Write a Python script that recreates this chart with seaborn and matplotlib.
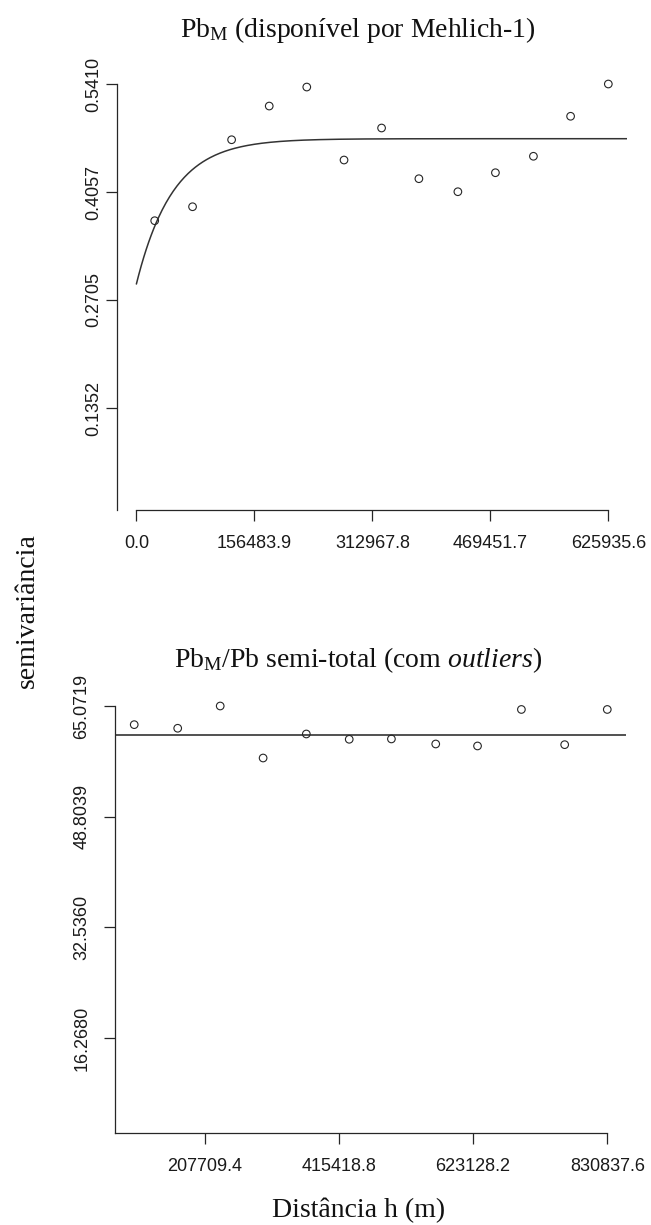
import numpy as np
import pandas as pd
import matplotlib
matplotlib.use("Agg")
import matplotlib.pyplot as plt
import seaborn as sns

# ---------------- data ----------------
# Panel 1: Pb_M (disponivel por Mehlich-1)
lag1 = [24300, 74500, 126300, 176200, 226000, 275400, 325200, 374700,
        426400, 476200, 526600, 575900, 625935.6]
gamma1 = [0.3698, 0.3873, 0.4712, 0.5134, 0.5372, 0.4458, 0.4859, 0.4224,
          0.4061, 0.4299, 0.4505, 0.5006, 0.5410]
# fitted exponential model
nugget1 = 0.2905
psill1 = 0.1820
range1 = 48000.0
xticks1 = [0.0, 156483.9, 312967.8, 469451.7, 625935.6]
xticklabels1 = ["0.0", "156483.9", "312967.8", "469451.7", "625935.6"]
yticks1 = [0.1352, 0.2705, 0.4057, 0.5410]
yticklabels1 = ["0.1352", "0.2705", "0.4057", "0.5410"]

# Panel 2: Pb_M / Pb semi-total (com outliers)
lag2 = [98600, 165900, 231700, 298100, 365000, 431400, 496700, 565300,
        630000, 697900, 764900, 830837.6]
gamma2 = [62.33, 61.80, 65.07, 57.43, 60.96, 60.18, 60.23, 59.49,
          59.20, 64.56, 59.39, 64.56]
nugget2 = 60.74  # pure nugget model
xticks2 = [207709.4, 415418.8, 623128.2, 830837.6]
xticklabels2 = ["207709.4", "415418.8", "623128.2", "830837.6"]
yticks2 = [16.2680, 32.5360, 48.8039, 65.0719]
yticklabels2 = ["16.2680", "32.5360", "48.8039", "65.0719"]

title1 = r"Pb$_{\mathrm{M}}$ (disponível por Mehlich-1)"
title2 = r"Pb$_{\mathrm{M}}$/Pb semi-total (com $\mathit{outliers}$)"
xlabel = "Distância h (m)"
ylabel = "semivariância"

# ---------------- style ----------------
sns.set_theme(style="white")
plt.rcParams["font.family"] = ["Liberation Sans", "DejaVu Sans"]
plt.rcParams["mathtext.fontset"] = "custom"
plt.rcParams["mathtext.rm"] = "Liberation Serif"
plt.rcParams["mathtext.it"] = "Liberation Serif:italic"
plt.rcParams["mathtext.bf"] = "Liberation Serif:bold"

INK = "#262626"
serif = ["Liberation Serif", "DejaVu Serif"]

W, H = 651, 1225
fig = plt.figure(figsize=(W / 100, H / 100), dpi=100)
fig.patch.set_facecolor("white")

ax1 = fig.add_axes([117.5 / W, 1 - 510 / H, (627.2 - 117.5) / W, (510 - 67) / H])
ax2 = fig.add_axes([115.3 / W, 1 - 1132.7 / H, (626.2 - 115.3) / W, (1132.7 - 690) / H])

# limits (R style: 4% extension on x)
x1max = 625935.6
x1lim = (-0.04 * x1max, 1.04 * x1max)
y1lim = (0.0075, 0.5623)
x2min, x2max = lag2[0], lag2[-1]
x2lim = (x2min - 0.04 * (x2max - x2min), x2max + 0.04 * (x2max - x2min))
y2lim = (2.39, 67.42)

# ---------------- panel 1 ----------------
df1 = pd.DataFrame({"h": lag1, "g": gamma1})
hgrid1 = np.linspace(0, x1lim[1], 400)
model1 = nugget1 + psill1 * (1 - np.exp(-hgrid1 / range1))
sns.lineplot(x=hgrid1, y=model1, ax=ax1, color="#333333", linewidth=1.1)
sns.scatterplot(data=df1, x="h", y="g", ax=ax1, marker="o", s=30,
                facecolor="none", edgecolor=INK, linewidth=0.8, zorder=3,
                clip_on=False)
ax1.set_xlim(*x1lim)
ax1.set_ylim(*y1lim)

# ---------------- panel 2 ----------------
df2 = pd.DataFrame({"h": lag2, "g": gamma2})
hgrid2 = np.linspace(0, x2lim[1], 50)
model2 = np.full_like(hgrid2, nugget2)
sns.lineplot(x=hgrid2, y=model2, ax=ax2, color="#222222", linewidth=1.1)
sns.scatterplot(data=df2, x="h", y="g", ax=ax2, marker="o", s=30,
                facecolor="none", edgecolor=INK, linewidth=0.8, zorder=3,
                clip_on=False)
ax2.set_xlim(*x2lim)
ax2.set_ylim(*y2lim)

# ---------------- axes styling ----------------
for ax in (ax1, ax2):
    ax.set_facecolor("white")
    ax.grid(False)
    for s in ("top", "right"):
        ax.spines[s].set_visible(False)
    for s in ("left", "bottom"):
        ax.spines[s].set_color(INK)
        ax.spines[s].set_linewidth(0.9)
    ax.set_xlabel("")
    ax.set_ylabel("")
    ax.tick_params(axis="both", which="major", bottom=True, left=True,
                   top=False, right=False, direction="out", length=8,
                   width=0.9, color=INK, labelcolor="#1a1a1a", labelsize=13)
    ax.tick_params(axis="y", labelrotation=90)

ax1.set_xticks(xticks1)
ax1.set_xticklabels(xticklabels1)
ax1.set_yticks(yticks1)
ax1.set_yticklabels(yticklabels1, va="center")
ax1.spines["left"].set_bounds(y1lim[0], yticks1[-1])
ax1.spines["bottom"].set_bounds(xticks1[0], xticks1[-1])
ax1.tick_params(axis="x", pad=10)
ax1.tick_params(axis="y", pad=3)

ax2.set_xticks(xticks2)
ax2.set_xticklabels(xticklabels2)
ax2.set_yticks(yticks2)
ax2.set_yticklabels(yticklabels2, va="center")
ax2.spines["left"].set_bounds(y2lim[0], yticks2[-1])
ax2.spines["bottom"].set_bounds(x2lim[0], xticks2[-1])
ax2.tick_params(axis="x", pad=10)
ax2.tick_params(axis="y", pad=10)

# ---------------- texts ----------------
fig.text(358 / W, 1 - 37 / H, title1, ha="center", va="baseline",
         fontsize=20, family=serif, color="#111111")
fig.text(358 / W, 1 - 666.7 / H, title2, ha="center", va="baseline",
         fontsize=20, family=serif, color="#111111")
fig.text(359 / W, 1 - 1216.7 / H, xlabel, ha="center", va="baseline",
         fontsize=20, family=serif, color="#111111")
fig.text(27 / W, 1 - 611 / H, ylabel, ha="center", va="center",
         rotation=90, fontsize=20, family=serif, color="#111111")

fig.savefig("out.png", dpi=100, facecolor="white")
